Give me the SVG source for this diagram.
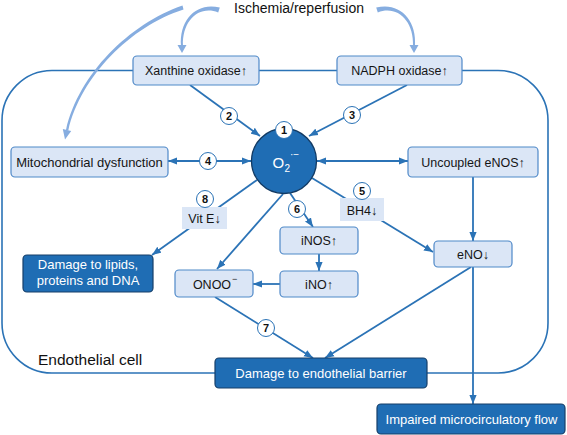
<svg xmlns="http://www.w3.org/2000/svg" width="567" height="435" viewBox="0 0 567 435">
<style>
text{font-family:"Liberation Sans",Arial,sans-serif;}
.lb{fill:#dbe6f6;stroke:#4f89c8;stroke-width:1.2;}
.db{fill:#1f6db4;stroke:#163f69;stroke-width:1.2;}
.tx{font-size:12.5px;fill:#151515;text-anchor:middle;}
.tw{font-size:13px;fill:#ffffff;text-anchor:middle;}
.ln{stroke:#2b73b6;stroke-width:1.8;fill:none;}
.bd circle{fill:#ffffff;stroke:#2b73b6;stroke-width:1;}
.bd text{font-size:11px;font-weight:bold;fill:#111;text-anchor:middle;}
.sw{fill:#86ade0;}
.tag{fill:#dbe6f6;}
</style>
<defs>
<marker id="ah" viewBox="0 0 10 8" markerWidth="9" markerHeight="8" refX="10" refY="4" orient="auto-start-reverse" markerUnits="userSpaceOnUse">
<path d="M0,0 L10,4 L0,8 Z" fill="#2b73b6"/>
</marker>
</defs>

<!-- cell outline -->
<rect id="cell" x="2" y="70.5" width="546" height="302.5" rx="50" ry="50" fill="none" stroke="#2b73b6" stroke-width="1.6"/>
<text x="38" y="365" font-size="15.5" fill="#111">Endothelial cell</text>

<!-- ischemia curved arrows -->
<g id="ischemia-arrows">
<path class="sw" d="M219.8 7.6 C197.5 1.5 179 19 181 46 L183 46 C182 21 198.5 5 218.2 12.4 Z"/>
<path class="sw" d="M177.5 45 L186.5 45 L182 53 Z"/>
<path class="sw" d="M376.2 7.6 C398.5 1.5 417 19 415 46 L413 46 C414 21 397.5 5 377.8 12.4 Z"/>
<path class="sw" d="M409.5 45 L418.5 45 L414 53 Z"/>
<path class="sw" d="M182.5 5.5 C129.5 24 79 73.5 66 130 L68.3 130.5 C81 76 130.5 26.5 183.5 9.5 Z"/>
<path class="sw" d="M62.8 129 L71.2 131 L65 139.5 Z"/>
</g>

<g id="connectors">
<path class="ln" d="M190 85 L260 136" marker-end="url(#ah)"/>
<path class="ln" d="M407 85 L309 136" marker-end="url(#ah)"/>
<path class="ln" d="M168 161 L251 161" marker-start="url(#ah)" marker-end="url(#ah)"/>
<path class="ln" d="M317 161 L408 161" marker-start="url(#ah)" marker-end="url(#ah)"/>
<path class="ln" d="M257 180 L152 255" marker-end="url(#ah)"/>
<path class="ln" d="M312 178 L433 252" marker-end="url(#ah)"/>
<path class="ln" d="M283 194 L217 269" marker-end="url(#ah)"/>
<path class="ln" d="M290 193 L313 227" marker-end="url(#ah)"/>
<path class="ln" d="M319 254 L319 271" marker-end="url(#ah)"/>
<path class="ln" d="M280 284 L253 284" marker-end="url(#ah)"/>
<path class="ln" d="M473 177 L473 241" marker-end="url(#ah)"/>
<path class="ln" d="M473 267 L473 404" marker-end="url(#ah)"/>
<path class="ln" d="M471 267 L325 358" marker-end="url(#ah)"/>
<path class="ln" d="M215 297 L313 358" marker-end="url(#ah)"/>
</g>

<text id="ischemia" x="299" y="12.5" font-size="14" fill="#111" text-anchor="middle">Ischemia/reperfusion</text>

<g id="xanthine"><rect class="lb" x="133" y="56" width="126" height="29" rx="4"/><text class="tx" x="196" y="75">Xanthine oxidase↑</text></g>
<g id="nadph"><rect class="lb" x="337" y="56" width="125" height="29" rx="4"/><text class="tx" x="399.5" y="75">NADPH oxidase↑</text></g>
<g id="mito"><rect class="lb" x="11" y="147" width="157" height="30" rx="4"/><text class="tx" x="89.5" y="166.5" style="font-size:13px">Mitochondrial dysfunction</text></g>
<g id="uncoupled"><rect class="lb" x="408" y="147" width="130" height="30" rx="4"/><text class="tx" x="473" y="166.5">Uncoupled eNOS↑</text></g>

<g id="o2">
<circle cx="284" cy="161" r="32.5" fill="#1f6db4" stroke="#123a63" stroke-width="1.3"/>
<text x="272.5" y="168" font-size="15" fill="#fff">O</text>
<text x="284.5" y="172" font-size="10" fill="#fff">2</text>
<text x="290" y="158" font-size="10" fill="#fff">·−</text>
</g>

<g id="lipids"><rect class="db" x="23" y="255" width="130" height="37" rx="4"/><text class="tw" x="88" y="268.5">Damage to lipids,</text><text class="tw" x="88" y="285">proteins and DNA</text></g>
<g id="onoo"><rect class="lb" x="175" y="270" width="78" height="27" rx="4"/><text class="tx" x="212" y="288.5">ONOO</text><text x="232" y="282" font-size="9" fill="#151515">−</text></g>
<g id="inos"><rect class="lb" x="280" y="227" width="78" height="27" rx="4"/><text class="tx" x="319" y="245">iNOS↑</text></g>
<g id="ino"><rect class="lb" x="280" y="271" width="78" height="26" rx="4"/><text class="tx" x="319" y="288.5">iNO↑</text></g>
<g id="eno"><rect class="lb" x="434" y="241" width="78" height="26" rx="4"/><text class="tx" x="473" y="258.5">eNO↓</text></g>
<g id="barrier"><rect class="db" x="215" y="358" width="212" height="30" rx="4"/><text class="tw" x="321" y="377.5">Damage to endothelial barrier</text></g>
<g id="impaired"><rect class="db" x="377" y="404" width="188" height="30" rx="4"/><text class="tw" x="471.5" y="423.5">Impaired microcirculatory flow</text></g>

<g id="vite"><rect class="tag" x="182" y="207" width="45" height="22"/><text class="tx" x="204.5" y="222.5">Vit E↓</text></g>
<g id="bh4"><rect class="tag" x="340" y="198" width="44" height="23"/><text class="tx" x="362" y="214.5">BH4↓</text></g>

<g id="badges" class="bd">
<circle cx="284" cy="130" r="8.5"/><text x="284" y="134">1</text>
<circle cx="229" cy="116" r="8.5"/><text x="229" y="120">2</text>
<circle cx="352" cy="115" r="8.5"/><text x="352" y="119">3</text>
<circle cx="208" cy="161" r="8.5"/><text x="208" y="165">4</text>
<circle cx="362" cy="191" r="8.5"/><text x="362" y="195">5</text>
<circle cx="297" cy="209" r="8.5"/><text x="297" y="213">6</text>
<circle cx="266" cy="328" r="8.5"/><text x="266" y="332">7</text>
<circle cx="205" cy="199" r="8.5"/><text x="205" y="203">8</text>
</g>
</svg>
